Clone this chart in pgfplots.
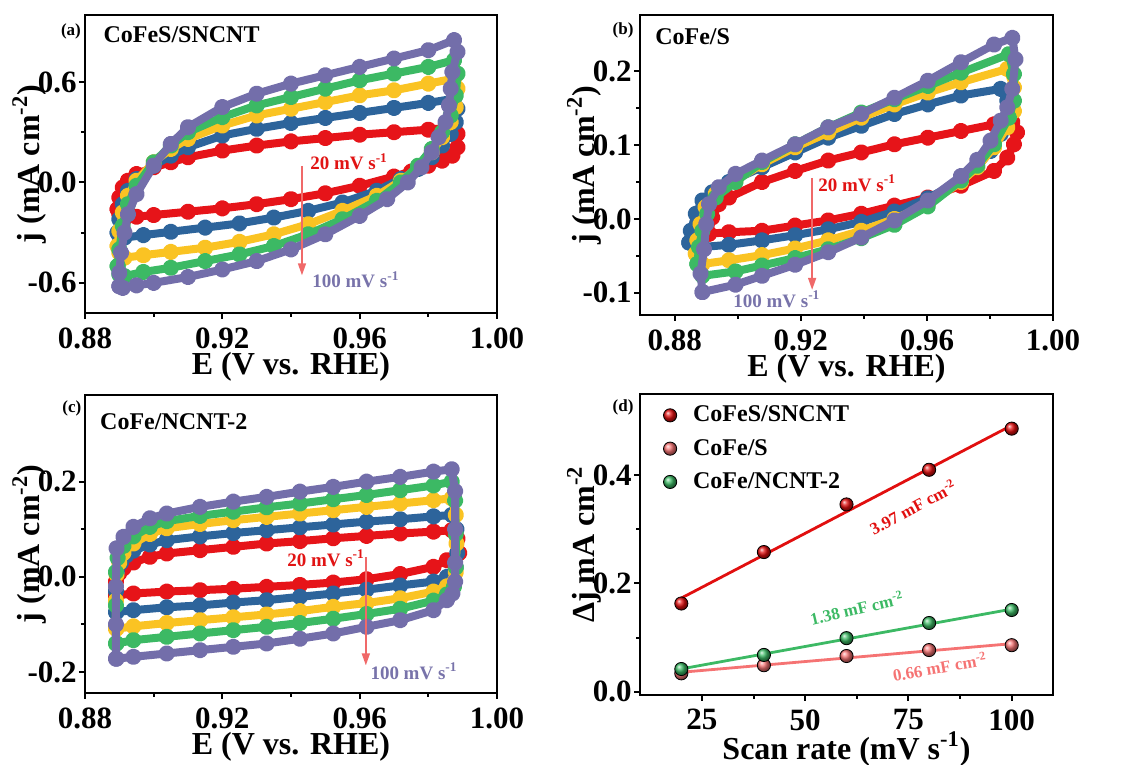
\documentclass[border=0pt]{standalone}
\usepackage{fontspec}
\setmainfont{Liberation Serif}
\usepackage{pgfplots}
\pgfplotsset{compat=1.18}
\usetikzlibrary{arrows.meta}
\definecolor{cR}{RGB}{230,20,25}
\definecolor{cB}{RGB}{45,100,155}
\definecolor{cY}{RGB}{250,195,35}
\definecolor{cG}{RGB}{60,185,100}
\definecolor{cP}{RGB}{115,110,170}
\definecolor{cArrow}{RGB}{240,105,105}
\definecolor{dR}{RGB}{225,15,15}
\definecolor{dP}{RGB}{245,115,115}
\definecolor{dG}{RGB}{60,185,100}
\definecolor{tR}{RGB}{225,20,20}
\definecolor{tP}{RGB}{120,115,170}
\tikzset{
  lab/.style={font=\fontsize{9.5}{10}\selectfont\bfseries, anchor=west, inner sep=0pt},
  ttl/.style={font=\fontsize{12}{12}\selectfont\bfseries, anchor=west, inner sep=0pt},
  pl/.style={font=\fontsize{8.5}{9}\selectfont\bfseries, inner sep=0pt},
  pnl/.style={font=\fontsize{8.5}{9}\selectfont\bfseries, inner sep=0pt},
}
\pgfplotsset{
  panel/.style={scale only axis, anchor=south west, clip mode=individual,
    axis line style={line width=1.3pt}, tick align=outside, tick pos=left,
    major tick length=3pt, minor tick length=2pt,
    every tick/.style={line width=1pt, black}, minor tick num=1,
    ticklabel style={font=\fontsize{15.5}{16}\selectfont\bfseries},
    xticklabel style={anchor=north, inner sep=0pt, yshift=-4pt},
    yticklabel style={anchor=east, inner sep=0pt, xshift=-1pt},
    every axis x label/.style={at={(axis description cs:0.5,-0.18)}, anchor=center,
      font=\fontsize{16}{17}\selectfont\bfseries},
    every axis y label/.style={at={(axis description cs:-0.135,0.5)}, rotate=90, anchor=center,
      font=\fontsize{16}{17}\selectfont\bfseries}},
  cv/.style={line width=4pt, line join=round, mark=ball, mark size=2.1pt},
}
\begin{document}
\begin{tikzpicture}
\useasboundingbox (0,0) rectangle (567.5pt,382.5pt);
% ---------------- (a)
\begin{axis}[panel, at={(42.5pt,226pt)}, width=206pt, height=149pt,
  xmin=0.88, xmax=1.0, ymin=-0.78, ymax=1.0,
  xtick={0.88,0.92,0.96,1.00}, xticklabels={0.88,0.92,0.96,1.00},
  ytick={-0.6,0,0.6}, yticklabels={-0.6,0.0,0.6},
  xlabel={E (V vs. RHE)}, ylabel={j (mA cm\textsuperscript{-2})}]
\addplot[cv, color=cR, mark options={ball color=cR}] coordinates {
(0.8895,-0.16) (0.8900,-0.09) (0.8910,-0.03) (0.8925,0.01) (0.895,0.05) (0.900,0.09) (0.905,0.12) (0.910,0.15) (0.920,0.19) (0.930,0.22) (0.940,0.245) (0.950,0.265) (0.960,0.285) (0.970,0.30) (0.980,0.315) (0.9875,0.33)
(0.9885,0.29) (0.9885,0.21) (0.987,0.16)
(0.984,0.13) (0.980,0.10) (0.975,0.065) (0.970,0.035) (0.960,-0.02) (0.950,-0.065) (0.940,-0.10) (0.930,-0.13) (0.920,-0.155) (0.910,-0.175) (0.900,-0.195) (0.895,-0.205) (0.8915,-0.215) (0.8900,-0.19) (0.8895,-0.16)};
\addplot[cv, color=cB, mark options={ball color=cB}] coordinates {
(0.8895,-0.30) (0.8900,-0.22) (0.8910,-0.13) (0.8925,-0.05) (0.895,0.02) (0.900,0.10) (0.905,0.16) (0.910,0.21) (0.920,0.28) (0.930,0.32) (0.940,0.355) (0.950,0.385) (0.960,0.415) (0.970,0.445) (0.980,0.475) (0.9875,0.50)
(0.9885,0.44) (0.9880,0.36) (0.9865,0.29)
(0.984,0.22) (0.981,0.15) (0.977,0.08) (0.972,0.02) (0.965,-0.05) (0.955,-0.12) (0.945,-0.17) (0.935,-0.21) (0.925,-0.245) (0.915,-0.27) (0.905,-0.295) (0.897,-0.315) (0.8915,-0.33) (0.8900,-0.32) (0.8895,-0.30)};
\addplot[cv, color=cY, mark options={ball color=cY}] coordinates {
(0.8895,-0.38) (0.8900,-0.29) (0.8910,-0.18) (0.8925,-0.08) (0.895,0.01) (0.900,0.12) (0.905,0.20) (0.910,0.26) (0.920,0.34) (0.930,0.40) (0.940,0.44) (0.950,0.48) (0.960,0.52) (0.970,0.55) (0.980,0.59) (0.9875,0.62)
(0.9885,0.56) (0.9880,0.45) (0.9865,0.36)
(0.984,0.27) (0.981,0.18) (0.977,0.09) (0.972,0.01) (0.965,-0.08) (0.955,-0.17) (0.945,-0.25) (0.935,-0.31) (0.925,-0.355) (0.915,-0.39) (0.905,-0.415) (0.897,-0.435) (0.8915,-0.45) (0.8900,-0.42) (0.8895,-0.38)};
\addplot[cv, color=cG, mark options={ball color=cG}] coordinates {
(0.8895,-0.50) (0.8900,-0.40) (0.8910,-0.26) (0.8925,-0.13) (0.895,-0.02) (0.900,0.12) (0.905,0.22) (0.910,0.30) (0.920,0.39) (0.930,0.46) (0.940,0.51) (0.950,0.56) (0.960,0.61) (0.970,0.65) (0.980,0.69) (0.9875,0.73)
(0.9885,0.65) (0.9880,0.52) (0.9865,0.40)
(0.984,0.30) (0.981,0.20) (0.977,0.10) (0.972,0.00) (0.965,-0.11) (0.955,-0.22) (0.945,-0.31) (0.935,-0.38) (0.925,-0.43) (0.915,-0.47) (0.905,-0.51) (0.897,-0.535) (0.8915,-0.56) (0.8900,-0.55) (0.8895,-0.50)};
\addplot[cv, color=cP, mark options={ball color=cP}] coordinates {
(0.8900,-0.62) (0.8900,-0.54) (0.8905,-0.42) (0.8915,-0.30) (0.8925,-0.19) (0.895,-0.07) (0.900,0.10) (0.905,0.23) (0.910,0.33) (0.920,0.45) (0.930,0.53) (0.940,0.59) (0.950,0.64) (0.960,0.69) (0.970,0.74) (0.980,0.79) (0.9875,0.85)
(0.9885,0.78) (0.9870,0.66) (0.9865,0.56) (0.9860,0.46) (0.985,0.36)
(0.983,0.27) (0.981,0.18) (0.978,0.09) (0.974,0.00) (0.968,-0.10) (0.960,-0.20) (0.950,-0.31) (0.940,-0.40) (0.930,-0.47) (0.920,-0.52) (0.910,-0.565) (0.900,-0.60) (0.895,-0.615) (0.891,-0.63) (0.8900,-0.62)};
\draw[cArrow, line width=0.8pt, -{Triangle[length=6pt,width=4pt]}] (axis cs:0.9432,0.099) -- (axis cs:0.9432,-0.555);
\node[pnl] at (axis description cs:-0.034,0.946) {(a)};
\node[ttl] at (axis description cs:0.044,0.933) {CoFeS/SNCNT};
\node[lab, text=tR] at (axis description cs:0.546,0.507) {20 mV s\textsuperscript{-1}};
\node[lab, text=tP] at (axis description cs:0.551,0.111) {100 mV s\textsuperscript{-1}};
\end{axis}
% ---------------- (b)
\begin{axis}[panel, at={(320pt,225pt)}, width=206.5pt, height=150pt,
  xmin=0.869, xmax=1.0, ymin=-0.13, ymax=0.276,
  xtick={0.88,0.92,0.96,1.00}, xticklabels={0.88,0.92,0.96,1.00},
  ytick={-0.1,0,0.1,0.2}, yticklabels={-0.1,0.0,0.1,0.2},
  xlabel={E (V vs. RHE)}, ylabel={j (mA cm\textsuperscript{-2})}]
\addplot[cv, color=cR, mark options={ball color=cR}] coordinates {
(0.8909,-0.020) (0.8919,0.002) (0.8940,0.020) (0.8972,0.029) (0.9077,0.050) (0.9182,0.065) (0.9287,0.079) (0.9392,0.090) (0.9497,0.101) (0.9603,0.110) (0.9708,0.119) (0.9813,0.128) (0.9871,0.131)
(0.9886,0.117) (0.9876,0.101) (0.9855,0.083)
(0.9813,0.065) (0.9708,0.045) (0.9603,0.029) (0.9497,0.018) (0.9392,0.007) (0.9287,-0.002) (0.9182,-0.009) (0.9077,-0.016) (0.8972,-0.018) (0.8909,-0.020)};
\addplot[cv, color=cB, mark options={ball color=cB}] coordinates {
(0.8846,-0.032) (0.8851,-0.016) (0.8867,0.007) (0.8888,0.025) (0.8919,0.036) (0.8972,0.050) (0.9077,0.070) (0.9182,0.090) (0.9287,0.110) (0.9392,0.126) (0.9497,0.142) (0.9603,0.155) (0.9708,0.167) (0.9834,0.176)
(0.9855,0.160) (0.9860,0.142)
(0.9834,0.115) (0.9802,0.092) (0.9760,0.070) (0.9708,0.052) (0.9603,0.028) (0.9497,0.010) (0.9392,-0.004) (0.9287,-0.014) (0.9182,-0.022) (0.9077,-0.029) (0.8972,-0.035) (0.8888,-0.038) (0.8846,-0.032)};
\addplot[cv, color=cY, mark options={ball color=cY}] coordinates {
(0.8867,-0.047) (0.8872,-0.029) (0.8882,-0.007) (0.8898,0.016) (0.8930,0.034) (0.8993,0.052) (0.9077,0.074) (0.9182,0.097) (0.9287,0.117) (0.9392,0.137) (0.9497,0.155) (0.9603,0.171) (0.9708,0.185) (0.9855,0.203)
(0.9876,0.178) (0.9876,0.146)
(0.9855,0.124) (0.9813,0.097) (0.9760,0.070) (0.9708,0.050) (0.9603,0.020) (0.9497,0.000) (0.9392,-0.016) (0.9287,-0.029) (0.9182,-0.040) (0.9077,-0.049) (0.8972,-0.056) (0.8888,-0.061) (0.8867,-0.047)};
\addplot[cv, color=cG, mark options={ball color=cG}] coordinates {
(0.8872,-0.061) (0.8877,-0.038) (0.8888,-0.016) (0.8903,0.007) (0.8930,0.029) (0.8993,0.050) (0.9077,0.077) (0.9182,0.101) (0.9287,0.124) (0.9392,0.144) (0.9497,0.162) (0.9603,0.180) (0.9708,0.198) (0.9860,0.223)
(0.9876,0.196) (0.9876,0.160)
(0.9860,0.137) (0.9813,0.101) (0.9760,0.072) (0.9708,0.052) (0.9603,0.017) (0.9497,-0.008) (0.9392,-0.026) (0.9287,-0.041) (0.9182,-0.053) (0.9077,-0.063) (0.8993,-0.071) (0.8888,-0.077) (0.8872,-0.061)};
\addplot[cv, color=cP, mark options={ball color=cP}] coordinates {
(0.8888,-0.099) (0.8882,-0.074) (0.8893,-0.041) (0.8900,-0.007) (0.8909,0.020) (0.8940,0.043) (0.8993,0.061) (0.9077,0.079) (0.9182,0.101) (0.9287,0.124) (0.9392,0.142) (0.9497,0.164) (0.9603,0.187) (0.9708,0.212) (0.9813,0.236) (0.9871,0.245)
(0.9881,0.216) (0.9871,0.176) (0.9855,0.151)
(0.9834,0.133) (0.9802,0.106) (0.9760,0.080) (0.9708,0.058) (0.9603,0.025) (0.9497,-0.002) (0.9392,-0.025) (0.9287,-0.045) (0.9182,-0.062) (0.9077,-0.077) (0.8993,-0.089) (0.8888,-0.099)};
\draw[cArrow, line width=0.8pt, -{Triangle[length=6pt,width=4pt]}] (axis cs:0.9236,0.0556) -- (axis cs:0.9236,-0.096);
\node[pnl] at (axis description cs:-0.041,0.95) {(b)};
\node[ttl] at (axis description cs:0.036,0.927) {CoFe/S};
\node[lab, text=tR] at (axis description cs:0.431,0.44) {20 mV s\textsuperscript{-1}};
\node[lab, text=tP] at (axis description cs:0.225,0.053) {100 mV s\textsuperscript{-1}};
\end{axis}
% ---------------- (c)
\begin{axis}[panel, at={(42.5pt,36pt)}, width=206pt, height=149pt,
  xmin=0.88, xmax=1.0, ymin=-0.244, ymax=0.382,
  xtick={0.88,0.92,0.96,1.00}, xticklabels={0.88,0.92,0.96,1.00},
  ytick={-0.2,0,0.2}, yticklabels={-0.2,0.0,0.2},
  xlabel={E (V vs. RHE)}, ylabel={j (mA cm\textsuperscript{-2})}]
\addplot[cv, color=cR, mark options={ball color=cR}] coordinates {
(0.8890,-0.039) (0.8890,-0.01) (0.8900,0.008) (0.8912,0.018) (0.8941,0.030) (0.8989,0.042) (0.9038,0.049) (0.9135,0.056) (0.9232,0.063) (0.9329,0.070) (0.9426,0.075) (0.9523,0.081) (0.962,0.086) (0.9718,0.091) (0.9815,0.095) (0.9868,0.098)
(0.9885,0.08) (0.9890,0.05)
(0.9854,0.035) (0.9815,0.021) (0.9718,0.006) (0.962,-0.005) (0.9523,-0.012) (0.9426,-0.017) (0.9329,-0.021) (0.9232,-0.025) (0.9135,-0.028) (0.9038,-0.031) (0.8941,-0.035) (0.8892,-0.039)};
\addplot[cv, color=cB, mark options={ball color=cB}] coordinates {
(0.8890,-0.074) (0.8890,-0.03) (0.8893,0.01) (0.8905,0.03) (0.8920,0.045) (0.8941,0.055) (0.8989,0.068) (0.9038,0.077) (0.9135,0.085) (0.9232,0.092) (0.9329,0.098) (0.9426,0.104) (0.9523,0.110) (0.962,0.116) (0.9718,0.121) (0.9815,0.127) (0.9868,0.130)
(0.9882,0.10) (0.9884,0.05) (0.9880,0.02)
(0.9854,0.000) (0.9815,-0.010) (0.9718,-0.018) (0.962,-0.027) (0.9523,-0.035) (0.9426,-0.042) (0.9329,-0.049) (0.9232,-0.054) (0.9135,-0.060) (0.9038,-0.064) (0.8941,-0.070) (0.8892,-0.074)};
\addplot[cv, color=cY, mark options={ball color=cY}] coordinates {
(0.8890,-0.109) (0.8890,-0.05) (0.8892,0.005) (0.8900,0.03) (0.8912,0.05) (0.8941,0.07) (0.8989,0.090) (0.9038,0.102) (0.9135,0.111) (0.9232,0.119) (0.9329,0.126) (0.9426,0.133) (0.9523,0.140) (0.962,0.147) (0.9718,0.154) (0.9815,0.161) (0.9868,0.165)
(0.9880,0.13) (0.9882,0.07) (0.9880,0.01)
(0.9854,-0.02) (0.9815,-0.031) (0.9718,-0.045) (0.962,-0.055) (0.9523,-0.063) (0.9426,-0.072) (0.9329,-0.079) (0.9232,-0.085) (0.9135,-0.091) (0.9038,-0.097) (0.8941,-0.104) (0.8892,-0.109)};
\addplot[cv, color=cG, mark options={ball color=cG}] coordinates {
(0.8890,-0.14) (0.8890,-0.06) (0.8890,0.01) (0.8895,0.04) (0.8912,0.065) (0.8941,0.085) (0.8989,0.105) (0.9038,0.117) (0.9135,0.128) (0.9232,0.137) (0.9329,0.146) (0.9426,0.154) (0.9523,0.163) (0.962,0.172) (0.9718,0.182) (0.9815,0.192) (0.9868,0.200)
(0.9878,0.16) (0.9880,0.09) (0.9880,0.02) (0.9875,-0.02)
(0.9854,-0.037) (0.9815,-0.050) (0.9718,-0.067) (0.962,-0.078) (0.9523,-0.088) (0.9426,-0.097) (0.9329,-0.105) (0.9232,-0.112) (0.9135,-0.119) (0.9038,-0.126) (0.8941,-0.133) (0.8892,-0.140)};
\addplot[cv, color=cP, mark options={ball color=cP}] coordinates {
(0.8890,-0.172) (0.8890,-0.10) (0.8890,-0.02) (0.8892,0.060) (0.8912,0.084) (0.8941,0.105) (0.8989,0.123) (0.9038,0.133) (0.9135,0.147) (0.9232,0.158) (0.9329,0.168) (0.9426,0.179) (0.9523,0.189) (0.962,0.200) (0.9718,0.210) (0.9815,0.221) (0.9868,0.226)
(0.9878,0.18) (0.9878,0.10) (0.9878,0.03) (0.9878,-0.01) (0.9870,-0.035)
(0.9854,-0.049) (0.9815,-0.070) (0.9718,-0.091) (0.962,-0.105) (0.9523,-0.119) (0.9426,-0.130) (0.9329,-0.140) (0.9232,-0.147) (0.9135,-0.154) (0.9038,-0.161) (0.8941,-0.168) (0.8892,-0.172)};
\draw[cArrow, line width=0.8pt, -{Triangle[length=6pt,width=4pt]}] (axis cs:0.9618,0.041) -- (axis cs:0.9618,-0.186);
\node[pnl] at (axis description cs:-0.032,0.956) {(c)};
\node[ttl] at (axis description cs:0.036,0.909) {CoFe/NCNT-2};
\node[lab, text=tR] at (axis description cs:0.49,0.453) {20 mV s\textsuperscript{-1}};
\node[lab, text=tP] at (axis description cs:0.692,0.074) {100 mV s\textsuperscript{-1}};
\end{axis}
% ---------------- (d)
\begin{axis}[panel, at={(320pt,35pt)}, width=206.5pt, height=150.5pt,
  xmin=10, xmax=110, ymin=-0.006, ymax=0.55,
  xtick={25,50,75,100}, xticklabels={25,50,75,100},
  ytick={0,0.2,0.4}, yticklabels={0.0,0.2,0.4},
  xlabel={Scan rate (mV s\textsuperscript{-1})}, ylabel={Δj mA cm\textsuperscript{-2}},
  legend style={at={(axis description cs:0.055,0.975)}, anchor=north west, draw=none, fill=none,
    font=\fontsize{12}{12}\selectfont\bfseries, row sep=3.2pt, inner sep=0pt,
    nodes={inner xsep=5pt}, /tikz/every odd column/.append style={column sep=3pt}},
  legend image code/.code={\draw[#1] plot coordinates {(0.1cm,0cm)};},
  legend cell align=left]
\addplot[dR, line width=1.4pt, forget plot] coordinates {(20,0.173) (100,0.492)};
\addplot[dG, line width=1.4pt, forget plot] coordinates {(20,0.0422) (100,0.1526)};
\addplot[dP, line width=1.4pt, forget plot] coordinates {(20,0.036) (100,0.0888)};
\addplot[only marks, mark=ball, mark options={ball color=dR}, mark size=3.3pt] coordinates {(20,0.163) (40,0.258) (60,0.346) (80,0.410) (100,0.486)};
\addlegendentry{CoFeS/SNCNT}
\addplot[only marks, mark=ball, mark options={ball color=dP}, mark size=3.3pt] coordinates {(20,0.034) (40,0.049) (60,0.066) (80,0.077) (100,0.086)};
\addlegendentry{CoFe/S}
\addplot[only marks, mark=ball, mark options={ball color=dG}, mark size=3.3pt] coordinates {(20,0.042) (40,0.068) (60,0.099) (80,0.127) (100,0.151)};
\addlegendentry{CoFe/NCNT-2}
\node[pnl] at (axis description cs:-0.041,0.957) {(d)};
\node[pl, text=dR, rotate=28] at (axis cs:76.1,0.341) {3.97 mF cm\textsuperscript{-2}};
\node[pl, text=dG, rotate=13] at (axis cs:62.5,0.1545) {1.38 mF cm\textsuperscript{-2}};
\node[pl, text=dP, rotate=10] at (axis cs:82.6,0.0456) {0.66 mF cm\textsuperscript{-2}};
\end{axis}
\end{tikzpicture}
\end{document}
